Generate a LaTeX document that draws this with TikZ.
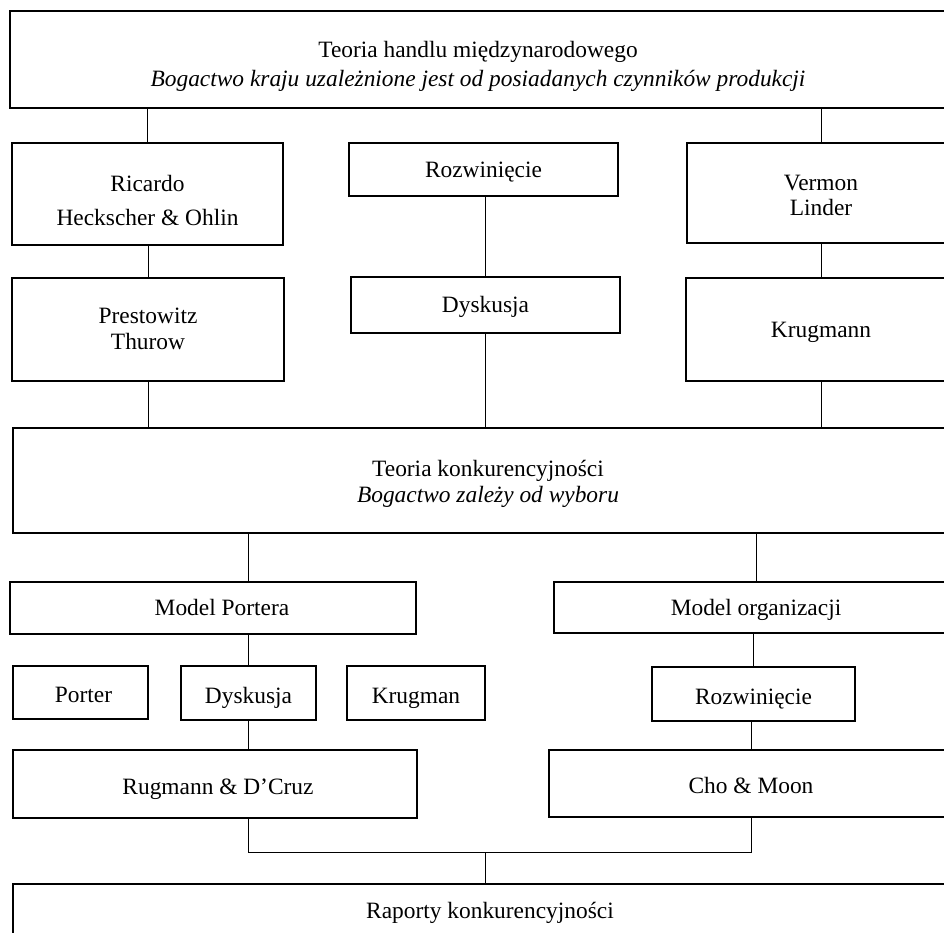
\documentclass[tikz,border=0pt]{standalone}
\usepackage{fontspec}
\setmainfont{Liberation Serif}
\begin{document}
\begin{tikzpicture}[x=0.5pt, y=-0.5pt,
		blok/.style={draw, line width=1pt, inner sep=0pt, align=center, font=\fontsize{11.7}{13}\selectfont},
		wyzej/.style={text height=10.8pt, text depth=3pt},
		nizej/.style={text height=13.4pt, text depth=3pt},
		linia/.style={line width=0.5pt}]
		\useasboundingbox (0,0) rectangle (944,933);
		\clip (0,0) rectangle (944,933);
		
		% poziom 1
		\node[blok, minimum width=468pt, minimum height=48.5pt] (handel) at (478,59.5) {\rule{0pt}{15pt}Teoria handlu międzynarodowego\\[1.5pt] \textit{Bogactwo kraju uzależnione jest od posiadanych czynników produkcji}\rule[-3pt]{0pt}{3pt}};
		
		% poziom 2 i 3
		\node[blok, minimum width=135.5pt, minimum height=51pt] (ric) at (147.5,194) {\rule{0pt}{17pt}Ricardo\\[4pt] Heckscher \& Ohlin\rule[-3pt]{0pt}{3pt}};
		\node[blok, wyzej, minimum width=134.5pt, minimum height=26.5pt] (rozw1) at (483.5,169.5) {Rozwinięcie};
		\node[blok, minimum width=134pt, minimum height=50pt] (verm) at (821,193) {\rule{0pt}{12.5pt}Vermon\\[-0.5pt] Linder\rule[-3pt]{0pt}{3pt}};
		\node[blok, minimum width=136pt, minimum height=51.5pt] (prest) at (148,329.5) {\rule{0pt}{9.5pt}Prestowitz\\ Thurow\rule[-3pt]{0pt}{3pt}};
		\node[blok, wyzej, minimum width=134.5pt, minimum height=28pt] (dysk1) at (485.5,305) {Dyskusja};
		\node[blok, wyzej, minimum width=135pt, minimum height=51.5pt] (krug1) at (821,329.5) {Krugmann};
		
		% poziom 4
		\node[blok, minimum width=475pt, minimum height=52.5pt] (konk) at (488,480.5) {\rule{0pt}{11.5pt}Teoria konkurencyjności\\ \textit{Bogactwo zależy od wyboru}\rule[-3pt]{0pt}{3pt}};
		
		% modele
		\node[blok, wyzej, minimum width=203pt, minimum height=26pt] (portera) at (213,608) {\hspace*{9pt}Model Portera};
		\node[blok, wyzej, minimum width=202pt, minimum height=25.5pt] (org) at (756,607.5) {Model organizacji};
		\node[blok, nizej, minimum width=67.5pt, minimum height=26.5pt] (porter) at (80.5,692.5) {\hspace*{3pt}Porter};
		\node[blok, nizej, minimum width=67.5pt, minimum height=27pt] (dysk2) at (248.5,693) {Dyskusja};
		\node[blok, nizej, minimum width=69pt, minimum height=27pt] (krug2) at (416,693) {Krugman};
		\node[blok, nizej, minimum width=101.5pt, minimum height=27pt] (rozw2) at (753.5,694) {Rozwinięcie};
		\node[blok, nizej, minimum width=202pt, minimum height=34pt] (rug) at (215,784) {\hspace*{3pt}Rugmann \& D’Cruz};
		\node[blok, nizej, minimum width=202pt, minimum height=33.5pt] (cho) at (751,783.5) {Cho \& Moon};
		
		% raporty
		\node[blok, text height=9pt, text depth=3pt, minimum width=477pt, minimum height=28pt] (rap) at (490,912) {Raporty konkurencyjności};
		
		% polaczenia
		\foreach \a/\b in {handel/ric, handel/verm, ric/prest, rozw1/dysk1, verm/krug1, konk/org, org/rozw2, rozw2/cho, portera/dysk2}
		{
			\draw[linia] (\b.north) -- (\b.north |- \a.south);
		}
		\foreach \a/\b in {prest/konk, dysk1/konk, krug1/konk, dysk2/rug}
		{
			\draw[linia] (\a.south) -- (\a.south |- \b.north);
		}
		\draw[linia] (dysk2 |- konk.south) -- (dysk2 |- portera.north);
		
		\coordinate (zbieg) at (485,852);
		\draw[linia] (dysk2 |- rug.south) |- (zbieg) -| (cho.south);
		\draw[linia] (zbieg) -- (zbieg |- rap.north);
	\end{tikzpicture}
\end{document}
